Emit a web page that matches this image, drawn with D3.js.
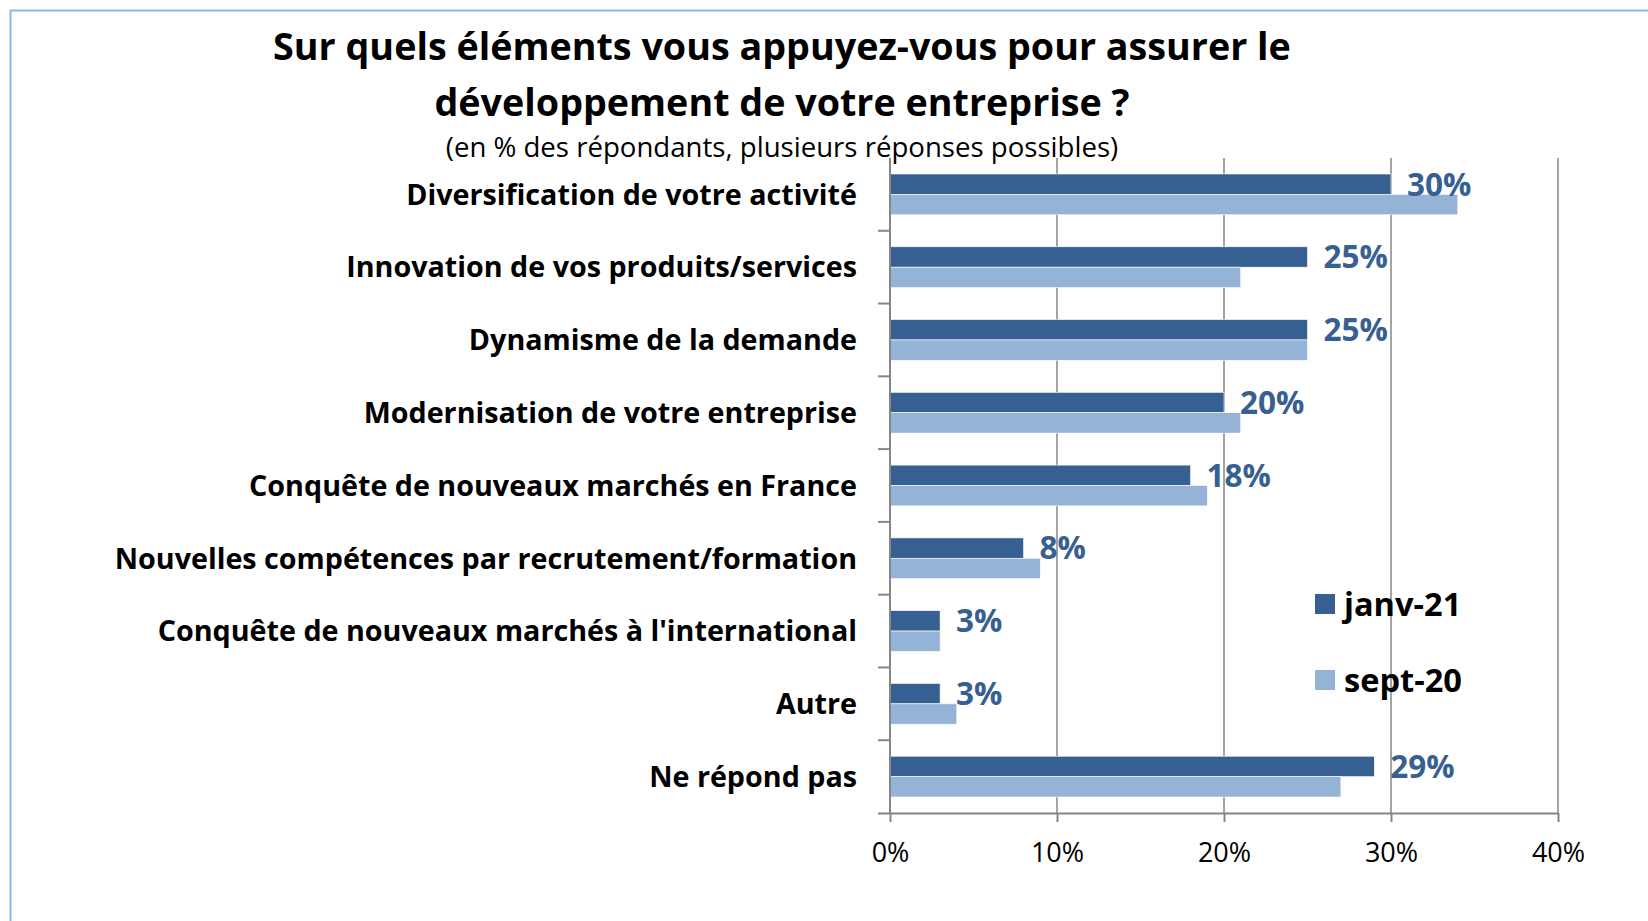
<!DOCTYPE html>
<html lang="fr">
<head>
<meta charset="utf-8">
<title>Développement entreprise</title>
<script src="https://cdnjs.cloudflare.com/ajax/libs/d3/7.8.5/d3.min.js"></script>
<style>
  body { margin: 0; background: #fff; }
  text { font-family: "Open Sans", Lato, sans-serif; }
</style>
</head>
<body>
<script>
// données
var categories = [
  "Diversification de votre activité",
  "Innovation de vos produits/services",
  "Dynamisme de la demande",
  "Modernisation de votre entreprise",
  "Conquête de nouveaux marchés en France",
  "Nouvelles compétences par recrutement/formation",
  "Conquête de nouveaux marchés à l'international",
  "Autre",
  "Ne répond pas"
];
var series = ["janv-21", "sept-20"];
var janv21 = [30, 25, 25, 20, 18, 8, 3, 3, 29];
var sept20 = [34, 21, 25, 21, 19, 9, 3, 4, 27];
var xTicks = [0, 10, 20, 30, 40];

var colors = { "janv-21": "#376092", "sept-20": "#95b3d7" };

var w = 1648, h = 921;
var svg = d3.select("body").append("svg")
  .attr("width", w)
  .attr("height", h);

// cadre du graphique (bords visibles haut et gauche)
svg.append("path")
  .attr("d", "M10.5," + h + "V10.5H" + w)
  .attr("fill", "none")
  .attr("stroke", "#8eb4e3")
  .attr("stroke-width", 2);

var pLeft = 890, pRight = 1558, pTop = 158, pBottom = 813;

var x = d3.scaleLinear().domain([0, 40]).range([pLeft, pRight]);
var y = d3.scaleBand().domain(categories).range([pTop, pBottom])
  .paddingInner(0.44).paddingOuter(0.22);
var ySub = d3.scaleBand().domain(series).range([0, y.bandwidth()]);

// grille verticale
svg.append("g").selectAll("line")
  .data(xTicks.slice(1))
  .enter().append("line")
  .attr("x1", function(d) { return x(d); })
  .attr("x2", function(d) { return x(d); })
  .attr("y1", pTop)
  .attr("y2", pBottom)
  .attr("stroke", "#868686")
  .attr("stroke-width", 1.5);

// barres
var rows = categories.map(function(c, i) {
  return { cat: c, vals: [{ s: "janv-21", v: janv21[i] }, { s: "sept-20", v: sept20[i] }] };
});

var groups = svg.append("g").selectAll("g")
  .data(rows)
  .enter().append("g")
  .attr("transform", function(d) { return "translate(0," + y(d.cat) + ")"; });

groups.selectAll("rect")
  .data(function(d) { return d.vals; })
  .enter().append("rect")
  .attr("x", x(0))
  .attr("y", function(d) { return ySub(d.s); })
  .attr("width", function(d) { return x(d.v) - x(0); })
  .attr("height", ySub.bandwidth())
  .attr("fill", function(d) { return colors[d.s]; })
  .attr("stroke", "#fff")
  .attr("stroke-width", 0.6);

// étiquettes de valeur (janv-21)
groups.append("text")
  .attr("x", function(d) { return x(d.vals[0].v) + 16; })
  .attr("y", ySub("janv-21") + ySub.bandwidth() / 2)
  .attr("dy", "0.36em")
  .attr("fill", "#376092")
  .attr("font-weight", "bold")
  .attr("font-size", 31.5)
  .text(function(d) { return d.vals[0].v + "%"; });

// axe horizontal
var xAxis = svg.append("g")
  .attr("transform", "translate(0," + pBottom + ")")
  .call(d3.axisBottom(x).tickValues(xTicks).tickSize(9).tickPadding(21)
    .tickFormat(function(d) { return d + "%"; }));
xAxis.select(".domain").attr("d", "M878,0.5H" + pRight);
xAxis.selectAll("line, path").attr("stroke", "#868686").attr("stroke-width", 2);
xAxis.selectAll("text")
  .attr("font-size", 27)
  .attr("font-family", "'Open Sans', sans-serif")
  .attr("fill", "#000");

// axe vertical avec graduations entre les catégories
svg.append("line")
  .attr("x1", pLeft).attr("x2", pLeft)
  .attr("y1", pTop).attr("y2", pBottom)
  .attr("stroke", "#868686").attr("stroke-width", 2);
svg.append("g").selectAll("line")
  .data(categories.slice(1))
  .enter().append("line")
  .attr("x1", pLeft - 12).attr("x2", pLeft)
  .attr("y1", function(c) { return y(c) - y.step() * y.paddingInner() / 2; })
  .attr("y2", function(c) { return y(c) - y.step() * y.paddingInner() / 2; })
  .attr("stroke", "#868686").attr("stroke-width", 2);

svg.append("g").selectAll("text")
  .data(categories)
  .enter().append("text")
  .attr("x", 857)
  .attr("y", function(c) { return y(c) + y.bandwidth() / 2; })
  .attr("dy", "0.36em")
  .attr("text-anchor", "end")
  .attr("font-weight", "bold")
  .attr("font-size", 28.7)
  .attr("fill", "#000")
  .text(function(c) { return c; });

// titre
var titleLines = ["Sur quels éléments vous appuyez-vous pour assurer le", "développement de votre entreprise ?"];
svg.append("g").selectAll("text")
  .data(titleLines)
  .enter().append("text")
  .attr("x", 782)
  .attr("y", function(d, i) { return 60 + i * 56; })
  .attr("text-anchor", "middle")
  .attr("font-weight", "bold")
  .attr("font-size", 37.7)
  .text(function(d) { return d; });

svg.append("text")
  .attr("x", 782)
  .attr("y", 157)
  .attr("text-anchor", "middle")
  .attr("font-size", 27.6)
  .text("(en % des répondants, plusieurs réponses possibles)");

// légende
var legend = svg.append("g").selectAll("g")
  .data(series)
  .enter().append("g")
  .attr("transform", function(d, i) { return "translate(1315," + (594 + i * 76) + ")"; });
legend.append("rect")
  .attr("width", 20).attr("height", 20)
  .attr("fill", function(d) { return colors[d]; });
legend.append("text")
  .attr("x", 29)
  .attr("y", 10)
  .attr("dy", "0.36em")
  .attr("font-weight", "bold")
  .attr("font-size", 32.6)
  .text(function(d) { return d; });
</script>
</body>
</html>
